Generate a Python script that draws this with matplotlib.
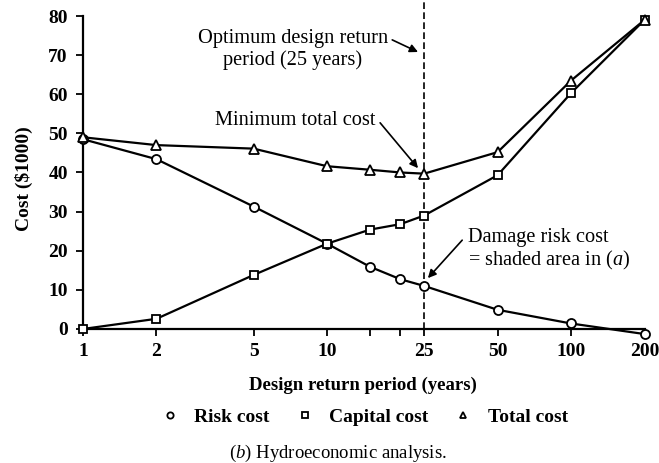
import matplotlib
matplotlib.use("Agg")
import matplotlib.pyplot as plt
from matplotlib.lines import Line2D

plt.rcParams['font.family'] = ['Liberation Serif', 'DejaVu Serif']
plt.rcParams['mathtext.fontset'] = 'custom'
plt.rcParams['mathtext.it'] = 'Liberation Serif:italic'
plt.rcParams['mathtext.rm'] = 'Liberation Serif'

# return period (years) and costs ($1000)
period = [1, 2, 5, 10, 15, 20, 25, 50, 100, 200]
risk_cost = [48.5, 43.4, 31.3, 21.8, 15.9, 12.7, 11.0, 4.9, 1.4, -1.3]
capital_cost = [0.0, 2.6, 13.8, 21.8, 25.4, 26.8, 29.0, 39.3, 60.3, 79.0]
total_cost = [49.0, 47.0, 46.1, 41.6, 40.7, 40.0, 39.7, 45.2, 63.5, 79.0]

xticks = [1, 2, 5, 10, 25, 50, 100, 200]
xtick_labels = ['1', '2', '5', '10', '25', '50', '100', '200']
minor_ticks = [15, 20]
yticks = [0, 10, 20, 30, 40, 50, 60, 70, 80]
optimum = 25

fig = plt.figure(figsize=(6.59, 4.63), dpi=100)
ax = fig.add_axes([0.126, 0.2726, 0.852, 0.7266])

line_kw = dict(color='black', lw=1.6, mfc='white', mec='black', mew=1.3, clip_on=False, zorder=3)
ax.plot(period, risk_cost, marker='o', ms=6.5, **line_kw)
ax.plot(period, capital_cost, marker='s', ms=6, **line_kw)
ax.plot(period, total_cost, marker='^', ms=7.5, **line_kw)

# optimum design return period
ax.plot([optimum, optimum], [0, 84], color='black', lw=1.2, ls=(0, (4, 2)), clip_on=False, zorder=2)

ax.set_xscale('log')
ax.set_xlim(1, 200)
ax.set_ylim(-2, 84)
ax.set_xticks(xticks)
ax.set_xticklabels(xtick_labels)
ax.set_xticks(minor_ticks, minor=True)
ax.set_xticklabels([], minor=True)
ax.set_yticks(yticks)

for s in ['top', 'right']:
    ax.spines[s].set_visible(False)
ax.spines['left'].set_bounds(0, 80)
ax.spines['bottom'].set_position(('data', 0))
ax.spines['left'].set_linewidth(1.6)
ax.spines['bottom'].set_linewidth(1.6)
ax.tick_params(axis='both', which='both', direction='out', width=1.3, labelsize=14)
ax.tick_params(axis='y', length=5, pad=6)
ax.tick_params(axis='x', which='major', length=5, pad=5)
ax.tick_params(axis='x', which='minor', length=5)
for lab in ax.get_xticklabels() + ax.get_yticklabels():
    lab.set_fontweight('bold')

ax.set_ylabel('Cost (\\$1000)', fontsize=14, fontweight='bold')
ax.set_xlabel('Design return period (years)', fontsize=13.5, fontweight='bold')
ax.yaxis.set_label_coords(24 / 659, 1 - 179 / 463, transform=fig.transFigure)
ax.xaxis.set_label_coords(363 / 659, 1 - 385 / 463, transform=fig.transFigure)
ax.yaxis.label.set_va('center')
ax.xaxis.label.set_va('center')

# callouts
arrow_kw = dict(arrowstyle='-|>', color='black', lw=1.2, mutation_scale=12, shrinkA=0, shrinkB=0)
ax.text(7.25, 71.4, 'Optimum design return\nperiod (25 years)', fontsize=14.7,
        ha='center', va='center', linespacing=1.2)
ax.annotate('', xy=(23.6, 70.8), xytext=(18.5, 73.9), arrowprops=arrow_kw)
ax.text(7.39, 53.4, 'Minimum total cost', fontsize=14.7, ha='center', va='center')
ax.annotate('', xy=(23.6, 41.1), xytext=(16.5, 52.7), arrowprops=arrow_kw)
ax.text(37.8, 20.2, 'Damage risk cost\n= shaded area in ($\\it{a}$)', fontsize=14.6,
        ha='left', va='center', linespacing=1.15)
ax.annotate('', xy=(25.9, 13.0), xytext=(35.8, 22.7), arrowprops=arrow_kw)

handles = [
    Line2D([], [], ls='none', marker='o', ms=4.5, mfc='white', mec='black', mew=1.3),
    Line2D([], [], ls='none', marker='s', ms=4, mfc='white', mec='black', mew=1.3),
    Line2D([], [], ls='none', marker='^', ms=5, mfc='white', mec='black', mew=1.3),
]
fig.legend(handles, ['Risk cost', 'Capital cost', 'Total cost'], loc='center',
           bbox_to_anchor=(364 / 659, 1 - 417 / 463), ncol=3, frameon=False,
           prop=dict(family='Liberation Serif', weight='bold', size=14),
           handlelength=1.0, handletextpad=0.75, columnspacing=1.3,
           borderpad=0, borderaxespad=0)

fig.text(338 / 659, 1 - 453 / 463, '($\\it{b}$) Hydroeconomic analysis.',
         ha='center', va='center', fontsize=13.5)

fig.savefig('out.png', dpi=100)
